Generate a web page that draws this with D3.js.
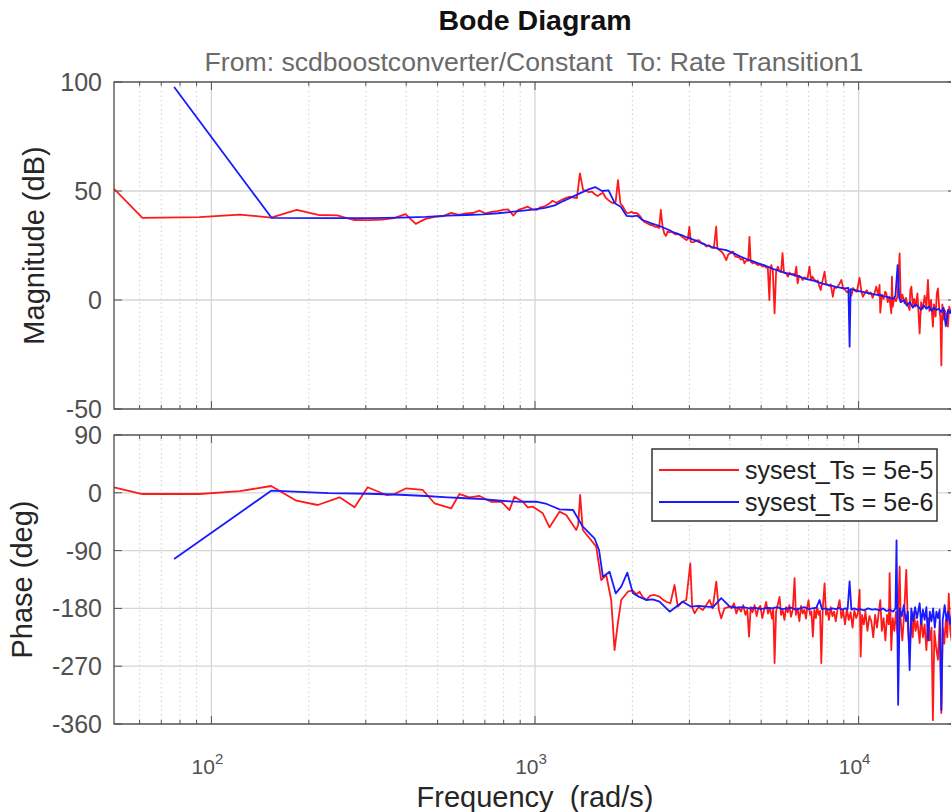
<!DOCTYPE html>
<html><head><meta charset="utf-8">
<script src="https://cdn.jsdelivr.net/npm/d3@7/dist/d3.min.js"></script>
<style>
body{margin:0;background:#fff}
svg text{font-family:"Liberation Sans",Arial,Helvetica,sans-serif;white-space:pre}
</style>
</head><body><svg id="c" width="951" height="812"></svg>
<script>
// ---------------- DATA ----------------
const titleText = "Bode Diagram";
const subtitleText = "From: scdboostconverter/Constant  To: Rate Transition1";
const xLabel = "Frequency  (rad/s)";
const magLabel = "Magnitude (dB)";
const phaseLabel = "Phase (deg)";
const seriesNames = ["sysest_Ts = 5e-5", "sysest_Ts = 5e-6"];
const magTicks = [-50, 0, 50, 100];
const phaseTicks = [-360, -270, -180, -90, 0, 90];
const freqDecades = [100, 1000, 10000];
const freqDecadeExp = ["2", "3", "4"];

// red (Ts = 5e-5) magnitude, [rad/s, dB]
const redMag = [[50,51],[61.2,37.7],[91.8,38.0],[122.4,39.2],[153,37.8],[183.6,41.3],[214,39.0],[245,38.8],[275,36.7],[306,36.6],[337,36.9],[367,37.6],[398,39.4],[428,34.9],[459,37.2],[490,38.1],[520,38.5],[551,40.0],[581,39.1],[612,39.7],[643,39.9],[673,41.0],[704,39.7],[734,40.4],[765,40.8],[796,41.3],[826,41.6],[857,38.7],[887,41.3],[918,42.0],[949,42.8],[979,41.7],[1010,41.3],[1040,42.5],[1071,43.0],[1102,44.0],[1133,45.5],[1163,44.6],[1194,45.5],[1224,46.3],[1255,47.0],[1285,47.4],[1316,47.0],[1347,46.7],[1377,58.1],[1408,50.5],[1438,50.0],[1469,49.5],[1499,49.7],[1530,48.5],[1561,47.7],[1591,48.5],[1622,49.2],[1652,47.0],[1683,45.9],[1714,45.0],[1744,44.4],[1775,45.0],[1805,55.0],[1836,44.4],[1867,43.0],[1897,41.0],[1928,39.8],[1958,40.0],[1989,40.5],[2020,39.8],[2050,40.0],[2081,39.5],[2111,38.5],[2142,37.0],[2173,35.9],[2203,35.5],[2234,35.0],[2264,34.5],[2295,34.4],[2326,34.0],[2356,33.5],[2387,33.6],[2418,33.0],[2448,41.3],[2479,33.6],[2509,30.5],[2540,29.4],[2571,31.5],[2601,31.0],[2632,31.3],[2662,31.0],[2693,30.5],[2724,30.0],[2754,30.5],[2785,30.0],[2815,29.8],[2846,29.0],[2877,28.5],[2907,28.0],[2938,27.5],[2968,28.0],[2999,33.6],[3030,26.7],[3090,26.5],[3150,27.2],[3210,27.5],[3270,26.0],[3330,25.5],[3390,24.5],[3450,25.2],[3510,24.0],[3570,23.8],[3630,33.6],[3660,23.7],[3720,22.8],[3780,22.0],[3840,20.5],[3900,18.3],[3960,21.0],[4020,21.5],[4090,22.2],[4150,20.0],[4210,19.8],[4270,19.5],[4330,18.5],[4390,18.9],[4440,16.8],[4500,18.2],[4560,18.0],[4600,29.0],[4640,17.5],[4710,16.8],[4770,17.2],[4830,16.5],[4890,16.0],[4950,16.3],[5010,15.8],[5060,15.3],[5120,15.6],[5180,14.8],[5240,15.2],[5300,0.0],[5340,14.5],[5370,16.0],[5430,13.5],[5500,-6.1],[5560,13.0],[5630,15.3],[5690,13.2],[5760,12.8],[5820,21.5],[5880,12.5],[5970,12.2],[6050,10.7],[6120,12.6],[6200,11.8],[6280,12.0],[6350,11.0],[6420,15.3],[6480,7.6],[6550,11.2],[6630,10.5],[6720,9.2],[6800,10.4],[6880,9.8],[6960,10.2],[7050,15.3],[7130,9.0],[7200,10.7],[7310,9.2],[7400,8.5],[7480,9.0],[7570,6.1],[7640,4.6],[7720,8.2],[7850,13.0],[7930,7.5],[8020,7.0],[8110,6.5],[8200,7.2],[8330,1.5],[8420,6.0],[8520,5.5],[8620,6.3],[8740,7.6],[8850,9.2],[8960,5.2],[9080,4.8],[9200,3.5],[9380,4.6],[9500,2.0],[9620,5.5],[9750,4.2],[9880,3.8],[10070,10.2],[10200,4.0],[10310,1.5],[10450,3.1],[10600,4.5],[10750,2.8],[10900,3.5],[11050,1.0],[11200,3.2],[11340,6.1],[11500,2.0],[11610,6.9],[11670,-5.8],[11800,2.5],[11950,0.5],[12080,3.8],[12180,3.1],[12300,-1.0],[12450,1.5],[12620,-6.1],[12680,10.7],[12750,-3.1],[12900,1.2],[13050,-0.5],[13200,2.0],[13390,21.4],[13500,-1.0],[13650,2.5],[13870,-1.5],[14000,1.0],[14150,-2.0],[14380,-4.6],[14450,4.6],[14560,6.1],[14700,-2.5],[14850,0.5],[15000,-3.0],[15200,3.0],[15440,-15.3],[15600,-1.0],[15800,-4.0],[16000,2.0],[16200,-3.5],[16380,9.2],[16550,-5.0],[16750,0.0],[16970,-12.2],[17100,-2.0],[17300,-7.6],[17450,3.1],[17590,5.3],[17750,-4.0],[17900,-8.0],[18020,-30.0],[18150,-2.0],[18300,-9.0],[18450,-4.6],[18600,-6.0],[18880,-12.2],[19060,-3.1],[19300,-6.0],[19600,-4.0],[19900,-8.0],[20200,-5.0]];

// blue (Ts = 5e-6) magnitude, [rad/s, dB]
const blueMag = [[76.7,97.7],[153.4,37.7],[230.1,37.6],[306.8,37.6],[383.5,37.8],[460.2,38.1],[536.9,38.7],[613.6,39.0],[690.3,39.3],[767,39.8],[843.7,40.4],[920.4,41.0],[997.1,41.6],[1073.8,42.3],[1150.5,43.4],[1227.2,45.5],[1303.9,47.3],[1380.6,49.0],[1457.3,50.6],[1534,51.8],[1610.7,50.0],[1687.4,50.3],[1764.1,44.4],[1840.8,42.8],[1917.5,38.6],[1994.2,38.4],[2070.9,38.7],[2147.6,36.7],[2224.3,35.9],[2301,35.0],[2377.7,34.4],[2454.4,33.6],[2531.1,32.8],[2607.8,32.0],[2684.5,31.0],[2761.2,30.3],[2837.9,29.8],[2914.6,29.0],[2991.3,28.5],[3068,27.8],[3144.7,27.2],[3221.4,26.5],[3298.1,26.0],[3400,25.0],[3550,24.2],[3700,23.5],[3900,22.9],[4100,21.5],[4300,20.0],[4500,18.8],[4700,17.8],[4900,16.8],[5100,16.0],[5300,15.0],[5500,14.0],[5700,13.3],[5900,12.6],[6100,12.0],[6300,11.5],[6500,11.0],[6700,10.2],[6900,9.6],[7100,9.2],[7300,8.8],[7500,8.2],[7700,7.6],[7900,7.2],[8100,6.8],[8300,6.5],[8500,6.0],[8700,5.8],[8900,5.5],[9100,5.3],[9300,5.6],[9380,-21.4],[9450,5.0],[9700,4.6],[9900,4.3],[10100,4.0],[10400,3.6],[10700,3.2],[11000,2.8],[11300,2.5],[11600,2.3],[11900,1.8],[12200,1.5],[12500,1.0],[12800,0.5],[13000,2.0],[13200,16.0],[13350,1.0],[13500,-1.0],[13800,0.0],[14100,-2.5],[14400,-1.0],[14700,-3.5],[15000,-2.0],[15300,-3.0],[15600,-4.5],[15900,-2.5],[16200,-4.0],[16500,-3.0],[16800,-5.0],[17100,-3.5],[17400,-4.6],[17700,-4.0],[18000,-5.5],[18300,-3.5],[18600,-12.0],[18900,-4.5],[19200,-6.0],[19500,-4.0],[19800,-5.5],[20200,-5.0]];

// red phase, [rad/s, deg]
const redPhase = [[50,8.6],[61.2,-1.9],[91.8,-1.9],[122.4,2.5],[153,10.6],[183,-12.3],[213,-19],[249,-7],[277,-22.6],[304,8.6],[347,-3.4],[368,-1.9],[400,7],[450,4.4],[489,-16.3],[551,-24.1],[584,-1.9],[627,-7],[674,-5],[732,-13.9],[786,-13.9],[834,-26.8],[864,-6],[917,-13.9],[950,-22.6],[985,-21.6],[1057,-31.9],[1109,-53.7],[1190,-29.4],[1249,-34.6],[1341,-57.9],[1360,-50],[1379,-3.4],[1405,-57.9],[1474,-70.8],[1546,-83.9],[1602,-135.8],[1660,-128],[1720,-166.9],[1761,-244.8],[1803,-203.2],[1847,-166.9],[1936,-154],[2000,-152],[2060,-158],[2104,-154],[2150,-162],[2207,-166.9],[2270,-160],[2341,-159.1],[2426,-161.8],[2480,-166],[2544,-169.6],[2620,-172],[2699,-143.6],[2763,-177.3],[2850,-170],[2934,-166.9],[3019,-109.8],[3060,-178],[3112,-187.6],[3200,-178],[3302,-182.5],[3380,-175],[3463,-166.9],[3540,-180],[3632,-138.4],[3700,-182],[3763,-195.4],[3850,-180],[3993,-177.3],[4050,-180],[4120,-172],[4190,-188],[4260,-178],[4330,-185],[4400,-175],[4470,-190],[4530,-182],[4587,-224],[4640,-178],[4700,-186],[4770,-175],[4840,-192],[4900,-180],[4970,-176],[5040,-195],[5110,-182],[5180,-170],[5250,-188],[5320,-179],[5400,-196],[5450,-180],[5500,-265],[5560,-185],[5620,-175],[5698,-162],[5760,-190],[5830,-183],[5900,-198],[5970,-178],[6040,-186],[6110,-175],[6180,-193],[6260,-182],[6342,-133],[6400,-190],[6480,-180],[6560,-200],[6640,-176],[6720,-188],[6800,-182],[6880,-196],[6940,-178],[7003,-167],[7080,-190],[7150,-185],[7222,-224],[7300,-182],[7380,-195],[7450,-178],[7530,-190],[7600,-184],[7670,-265],[7750,-180],[7851,-141],[7930,-190],[8010,-182],[8100,-198],[8200,-178],[8300,-192],[8400,-185],[8500,-200],[8620,-180],[8736,-167],[8850,-195],[8960,-183],[9080,-205],[9200,-180],[9320,-198],[9450,-186],[9580,-210],[9700,-183],[9830,-195],[9950,-188],[10072,-151],[10150,-255],[10250,-190],[10380,-205],[10500,-185],[10650,-215],[10800,-192],[10950,-200],[11100,-225],[11250,-190],[11400,-210],[11550,-185],[11670,-167],[11800,-215],[11950,-195],[12100,-230],[12250,-190],[12400,-205],[12470,-125],[12620,-245],[12750,-195],[12900,-215],[13050,-185],[13200,-220],[13390,-115],[13500,-200],[13650,-230],[13800,-195],[14040,-120],[14200,-210],[14380,-250],[14550,-195],[14700,-225],[14850,-185],[15000,-215],[15200,-200],[15444,-234],[15600,-190],[15800,-225],[16000,-205],[16200,-245],[16400,-195],[16600,-230],[16800,-210],[16970,-354],[17150,-215],[17350,-240],[17590,-260],[17800,-200],[18020,-343],[18200,-210],[18400,-235],[18600,-198],[18800,-225],[19000,-157],[19200,-215],[19500,-240],[19800,-205],[20200,-220]];

// blue phase, [rad/s, deg]
const bluePhase = [[76.7,-103],[153.4,3.5],[230,-0.5],[307,-1.5],[383,-3],[460,-5],[537,-7],[613,-8.5],[690,-10],[767,-12],[843,-13.5],[920,-13.9],[1009,-13.9],[1087,-17.4],[1190,-25.7],[1311,-26.8],[1405,-52.8],[1527,-70.8],[1577,-89],[1621,-130.6],[1700,-122.8],[1776,-156.5],[1847,-146.2],[1929,-124.4],[2007,-156.5],[2100,-162],[2207,-166.9],[2310,-166],[2426,-169.6],[2607,-185.1],[2861,-169.6],[3040,-177.3],[3200,-176],[3385,-177.3],[3550,-178],[3763,-164],[3993,-177],[4200,-179],[4400,-178],[4600,-180],[4800,-179],[5000,-181],[5200,-179],[5400,-180],[5600,-178],[5800,-181],[6000,-180],[6200,-179],[6400,-182],[6600,-180],[6800,-178],[7000,-181],[7200,-180],[7400,-179],[7575,-167],[7700,-181],[7900,-180],[8100,-182],[8300,-180],[8500,-181],[8700,-179],[8900,-182],[9100,-180],[9250,-181],[9380,-138],[9500,-182],[9700,-180],[9900,-182],[10100,-181],[10400,-183],[10700,-180],[11000,-182],[11300,-181],[11600,-183],[11900,-180],[12200,-184],[12500,-182],[12800,-185],[13000,-180],[13100,-74],[13250,-330],[13400,-180],[13600,-192],[13800,-175],[14000,-200],[14200,-185],[14380,-276],[14550,-180],[14750,-200],[14950,-178],[15150,-195],[15444,-172],[15600,-205],[15800,-182],[16000,-198],[16200,-178],[16400,-230],[16600,-185],[16800,-200],[17000,-180],[17200,-210],[17400,-185],[17600,-195],[17800,-182],[18020,-338],[18200,-198],[18450,-175],[18700,-200],[18900,-185],[19200,-205],[19500,-183],[19800,-195],[20200,-188]];

// ---------------- DRAW ----------------
const RED = "#ff1a1a", BLUE = "#1a1aff";
const svg = d3.select("#c");
const L = 114, R = 956;
const x = d3.scaleLog().domain([50, 20000]).range([L, R]);
const yMag = d3.scaleLinear().domain([-50, 100]).range([409, 82]);
const yPh = d3.scaleLinear().domain([-360, 90]).range([724, 435]);

const minorFreqs = [];
[10, 100, 1000, 10000].forEach(d => { for (let k = 2; k <= 9; k++) { const f = d * k; if (f > 50 && f < 20000) minorFreqs.push(f); } });

function panel(y, ticks, top, bottom, id) {
  const g = svg.append("g");
  g.append("clipPath").attr("id", id).append("rect")
    .attr("x", L).attr("y", top).attr("width", R - L).attr("height", bottom - top);
  g.selectAll(".mg").data(minorFreqs).join("line")
    .attr("x1", d => x(d)).attr("x2", d => x(d)).attr("y1", top).attr("y2", bottom)
    .attr("stroke", "#d0d0d0").attr("stroke-width", 1).attr("stroke-dasharray", "1.5,3");
  g.selectAll(".Mg").data(freqDecades).join("line")
    .attr("x1", d => x(d)).attr("x2", d => x(d)).attr("y1", top).attr("y2", bottom)
    .attr("stroke", "#d6d6d6").attr("stroke-width", 1.3);
  g.selectAll(".yg").data(ticks).join("line")
    .attr("x1", L).attr("x2", R).attr("y1", d => y(d)).attr("y2", d => y(d))
    .attr("stroke", "#d6d6d6").attr("stroke-width", 1.3);
  const tk = g.append("g").attr("stroke", "#555").attr("stroke-width", 1);
  freqDecades.forEach(f => {
    tk.append("line").attr("x1", x(f)).attr("x2", x(f)).attr("y1", bottom).attr("y2", bottom - 8);
    tk.append("line").attr("x1", x(f)).attr("x2", x(f)).attr("y1", top).attr("y2", top + 8);
  });
  minorFreqs.forEach(f => {
    tk.append("line").attr("x1", x(f)).attr("x2", x(f)).attr("y1", bottom).attr("y2", bottom - 4);
    tk.append("line").attr("x1", x(f)).attr("x2", x(f)).attr("y1", top).attr("y2", top + 4);
  });
  ticks.forEach(t => {
    tk.append("line").attr("x1", L).attr("x2", L + 8).attr("y1", y(t)).attr("y2", y(t));
    tk.append("line").attr("x1", R).attr("x2", R - 8).attr("y1", y(t)).attr("y2", y(t));
  });
  g.selectAll(".yl").data(ticks).join("text")
    .attr("x", L - 12).attr("y", d => y(d)).attr("dy", "0.36em")
    .attr("text-anchor", "end").attr("font-size", 25).attr("fill", "#505050")
    .text(d => d);
  return g;
}

const gMag = panel(yMag, magTicks, 82, 409, "clipMag");
const gPh = panel(yPh, phaseTicks, 435, 724, "clipPh");

function drawLine(g, data, y, color, clip) {
  const line = d3.line().x(d => x(d[0])).y(d => y(d[1]));
  g.append("path").datum(data).attr("d", line)
    .attr("fill", "none").attr("stroke", color).attr("stroke-width", 1.8)
    .attr("stroke-linejoin", "round").attr("clip-path", `url(#${clip})`);
}
drawLine(gMag, redMag, yMag, RED, "clipMag");
drawLine(gMag, blueMag, yMag, BLUE, "clipMag");
drawLine(gPh, redPhase, yPh, RED, "clipPh");
drawLine(gPh, bluePhase, yPh, BLUE, "clipPh");

[[82, 409], [435, 724]].forEach(([t, b]) => {
  svg.append("rect").attr("x", L).attr("y", t).attr("width", R - L).attr("height", b - t)
    .attr("fill", "none").attr("stroke", "#4a4a4a").attr("stroke-width", 1.3);
});

freqDecades.forEach((f, i) => {
  const t = svg.append("text").attr("x", x(f) - 4).attr("y", 774).attr("text-anchor", "middle")
    .attr("font-size", 21).attr("fill", "#505050");
  t.append("tspan").text("10");
  t.append("tspan").attr("dy", -10).attr("font-size", 15).text(freqDecadeExp[i]);
});

svg.append("text").attr("x", 535).attr("y", 30).attr("text-anchor", "middle")
  .attr("font-size", 28.5).attr("font-weight", "bold").attr("fill", "#111").text(titleText);
svg.append("text").attr("x", 534).attr("y", 71).attr("text-anchor", "middle")
  .attr("font-size", 26.6).attr("fill", "#6a6a6a").text(subtitleText);
svg.append("text").attr("x", 535).attr("y", 807).attr("text-anchor", "middle")
  .attr("font-size", 29).attr("fill", "#262626").text(xLabel);
svg.append("text").attr("transform", `translate(44,${(82 + 409) / 2}) rotate(-90)`)
  .attr("text-anchor", "middle").attr("font-size", 29).attr("fill", "#262626").text(magLabel);
svg.append("text").attr("transform", `translate(32,${(435 + 724) / 2}) rotate(-90)`)
  .attr("text-anchor", "middle").attr("font-size", 29).attr("fill", "#262626").text(phaseLabel);

const lg = svg.append("g");
lg.append("rect").attr("x", 652).attr("y", 449).attr("width", 285).attr("height", 72)
  .attr("fill", "#fff").attr("stroke", "#333").attr("stroke-width", 1.5);
[RED, BLUE].forEach((c, i) => {
  const yy = 470 + i * 32;
  lg.append("line").attr("x1", 659).attr("x2", 739).attr("y1", yy).attr("y2", yy)
    .attr("stroke", c).attr("stroke-width", 1.8);
  lg.append("text").attr("x", 745).attr("y", yy).attr("dy", "0.36em")
    .attr("font-size", 25).attr("fill", "#222").text(seriesNames[i]);
});
</script>
</body></html>
